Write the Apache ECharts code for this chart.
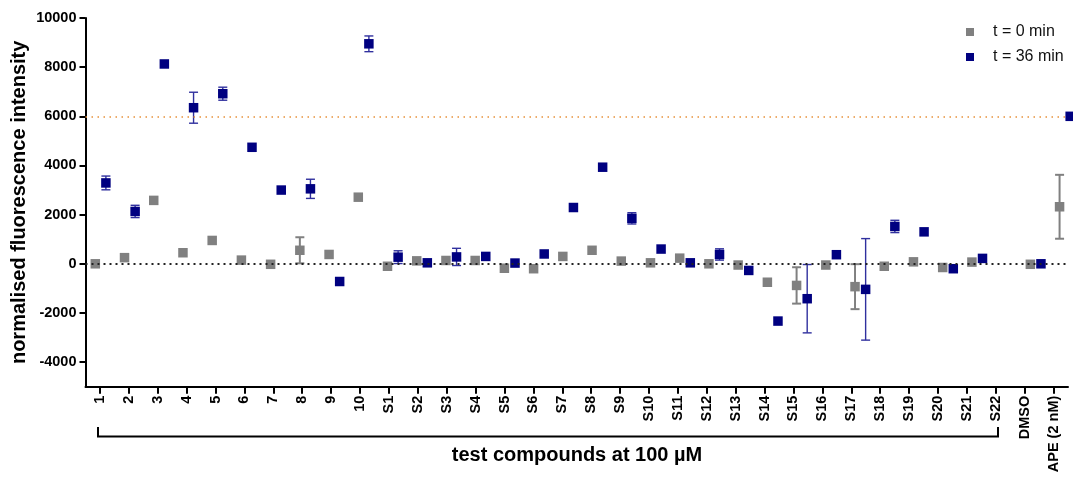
<!DOCTYPE html>
<html>
<head>
<meta charset="utf-8">
<script src="https://cdn.jsdelivr.net/npm/echarts@6/dist/echarts.min.js"></script>
<style>
html,body{margin:0;padding:0;background:#fff;}
#chart{width:1073px;height:485px;}
</style>
</head>
<body>
<div id="chart"></div>
<script>
// ---- data ----
const categories = ['1','2','3','4','5','6','7','8','9','10',
  'S1','S2','S3','S4','S5','S6','S7','S8','S9','S10','S11','S12','S13','S14','S15','S16','S17','S18','S19','S20','S21','S22',
  'DMSO','APE (2 nM)'];
const t0Values = [0, 250, 2580, 450, 950, 150, -20, 550, 380, 2710,
  -100, 120, 135, 135, -180, -200, 300, 550, 110, 40, 230, 0, -50, -750, -880, -50, -930, -100, 80, -150, 70, null,
  -20, 2320];
const t0Errors = [null, null, null, null, null, null, null, 530, null, null,
  null, null, null, null, null, null, null, null, null, null, null, null, null, null, 740, null, 915, null, null, null, null, null,
  null, 1300];
const t36Values = [3290, 2130, 8130, 6350, 6920, 4740, 3000, 3050, -720, 8950,
  270, 40, 280, 300, 30, 400, 2290, 3930, 1850, 600, 40, 380, -270, -2330, -1420, 370, -1040, 1520, 1300, -200, 220, null,
  0, 6000];
const t36Errors = [280, 250, null, 630, 265, null, null, 390, null, 320,
  260, null, 350, null, null, null, null, null, 230, null, null, 230, null, null, 1390, null, 2065, 250, null, null, null, null,
  null, null];
const yTickLabels = [-4000, -2000, 0, 2000, 4000, 6000, 8000, 10000];
const thresholdValue = 6000;
const seriesNames = ['t = 0 min', 't = 36 min'];

// ---- styling ----
const FONT = "'Liberation Sans', Arial, sans-serif";
const GRAY = '#808080';
const NAVY = '#000080';
const NAVY_ERR = '#30309e';
const DX = 5.3;

function pts(vals, errs) {
  const out = [];
  vals.forEach((v, i) => { if (v !== null) out.push([i, v, errs[i] === null ? 0 : errs[i]]); });
  return out;
}
const t0Data = pts(t0Values, t0Errors);
const t36Data = pts(t36Values, t36Errors);

function errRender(dx, color, width) {
  return function (params, api) {
    const x = api.value(0), y = api.value(1), e = api.value(2);
    if (!e) return null;
    const hi = api.coord([x, y + e]);
    const lo = api.coord([x, y - e]);
    const cx = hi[0] + dx, cap = 4.5;
    const style = { stroke: color, lineWidth: width };
    return {
      type: 'group',
      children: [
        { type: 'line', shape: { x1: cx, y1: hi[1], x2: cx, y2: lo[1] }, style },
        { type: 'line', shape: { x1: cx - cap, y1: hi[1], x2: cx + cap, y2: hi[1] }, style },
        { type: 'line', shape: { x1: cx - cap, y1: lo[1], x2: cx + cap, y2: lo[1] }, style }
      ]
    };
  };
}

const chart = echarts.init(document.getElementById('chart'), null, { renderer: 'canvas' });
chart.setOption({
  animation: false,
  textStyle: { fontFamily: FONT },
  grid: { left: 85.5, right: 5, top: 18, bottom: 98.3, containLabel: false, outerBoundsMode: 'none' },
  legend: {
    data: seriesNames,
    orient: 'vertical',
    left: 961, top: 19,
    icon: 'rect', itemWidth: 8, itemHeight: 8, itemGap: 9,
    textStyle: { fontSize: 16, color: '#111', fontFamily: FONT, padding: [0, 0, 0, 14] }
  },
  xAxis: [
    {
      type: 'category', data: categories, boundaryGap: true,
      axisLine: { show: true, onZero: false, lineStyle: { color: '#000', width: 2 } },
      axisTick: { show: true, alignWithLabel: true, length: 7, lineStyle: { color: '#000', width: 2 } },
      axisLabel: { show: true, rotate: 90, interval: 0, margin: 9, fontSize: 14.5, fontWeight: 'bold', color: '#000', fontFamily: FONT },
      splitLine: { show: false }
    },
    { type: 'value', min: -0.5168, max: 33.107, show: false, axisLine: { onZero: false } }
  ],
  yAxis: {
    type: 'value', min: -5000, max: 10000,
    name: 'normalised fluorescence intensity', nameLocation: 'middle', nameGap: 56, nameMoveOverlap: false,
    nameTextStyle: { fontSize: 20, fontWeight: 'bold', color: '#000', fontFamily: FONT },
    axisLine: { show: true, onZero: false, lineStyle: { color: '#000', width: 2 } },
    axisTick: { show: true, length: 6, lineStyle: { color: '#000', width: 2 }, customValues: yTickLabels },
    axisLabel: { show: true, fontSize: 14.5, fontWeight: 'bold', color: '#000', margin: 9, fontFamily: FONT,
      customValues: yTickLabels, formatter: v => String(v) },
    splitLine: { show: false }
  },
  series: [
    {
      type: 'custom', xAxisIndex: 1, name: 'err0', z: 2, silent: true,
      renderItem: errRender(-DX, GRAY, 2), data: t0Data, encode: { x: 0, y: 1 }
    },
    {
      type: 'custom', xAxisIndex: 1, name: 'err36', z: 2, silent: true,
      renderItem: errRender(DX, NAVY_ERR, 1.4), data: t36Data, encode: { x: 0, y: 1 }
    },
    {
      name: seriesNames[0], type: 'scatter', xAxisIndex: 1, z: 3, clip: false,
      symbol: 'rect', symbolSize: 9.5, symbolOffset: [-DX, 0],
      itemStyle: { color: GRAY, opacity: 1 },
      data: t0Data.map(d => [d[0], d[1]]),
      markLine: {
        silent: true, symbol: 'none', label: { show: false },
        data: [
          { yAxis: 0, lineStyle: { color: '#222', width: 2, type: [2, 4] } },
          { yAxis: thresholdValue, lineStyle: { color: '#e8913a', width: 1.5, type: [1.5, 4.5] } }
        ]
      }
    },
    {
      name: seriesNames[1], type: 'scatter', xAxisIndex: 1, z: 3, clip: false,
      symbol: 'rect', symbolSize: 9.5, symbolOffset: [DX, 0],
      itemStyle: { color: NAVY, opacity: 1 },
      data: t36Data.map(d => [d[0], d[1]])
    }
  ],
  graphic: [
    {
      type: 'polyline', silent: true,
      shape: { points: [[98, 427], [98, 436.5], [998, 436.5], [998, 427]] },
      style: { stroke: '#000', lineWidth: 2, fill: null }
    },
    {
      type: 'text', silent: true,
      style: { text: 'test compounds at 100 µM', x: 577, y: 455, align: 'center', verticalAlign: 'middle',
        font: "bold 20px 'Liberation Sans', Arial, sans-serif", fill: '#000' }
    }
  ]
});
</script>
</body>
</html>
